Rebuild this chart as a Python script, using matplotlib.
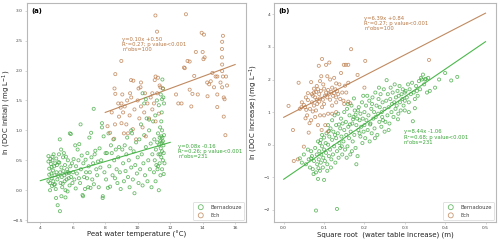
import matplotlib
matplotlib.use("Agg")
import matplotlib.pyplot as plt
import numpy as np

GREEN = "#3aa53a"
BROWN = "#b87745"
GREEN_LINE = "#4cb84c"
BROWN_LINE = "#c08a60"

# (a) peat water temperature (degC) vs ln(DOC initial)
bern_a = [
    (4.5, 0.57), (4.5, 0.48), (4.55, 0.36), (4.55, 0.26), (4.6, 0.12), (4.62, 0.52), (4.65, 0.44),
    (4.68, 0.28), (4.7, 0.2), (4.72, 0.07), (4.75, 0.5), (4.78, 0.33), (4.8, 0.15), (4.82, 0.6),
    (4.85, 0.4), (4.88, 0.25), (4.9, 0.1), (4.92, 0.45), (4.95, 0.02), (4.97, -0.13), (4.98, 0.53),
    (5.0, 0.3), (4.6, 0.0), (4.75, 0.56), (4.85, 0.09), (4.5, 0.15), (4.7, 0.39),
    (5.02, 0.42), (5.05, 0.18), (5.07, -0.25), (5.1, 0.24), (5.12, 0.47), (5.15, 0.6), (5.17, 0.46),
    (5.2, 0.85), (5.21, -0.35), (5.22, 0.3), (5.25, 0.12), (5.28, 0.68), (5.3, 0.38), (5.32, 0.22),
    (5.35, 0.05), (5.38, 0.11), (5.4, 0.55), (5.42, 0.32), (5.45, 0.62), (5.48, 0.25), (5.5, 0.15),
    (5.52, 0.42), (5.55, 0.0), (5.58, 0.56), (5.6, 0.28), (5.62, 0.18), (5.65, 0.35), (5.68, -0.02),
    (5.7, 0.5), (5.72, 0.3), (5.75, 0.2), (5.78, 0.29), (5.8, 0.08), (5.82, 0.95), (5.85, 0.4),
    (5.88, 0.94), (5.9, 0.22), (5.95, 0.45), (5.98, 0.12), (5.3, -0.1), (5.55, -0.12),
    (6.02, 0.3), (6.05, 0.52), (6.1, 0.18), (6.15, 0.75), (6.18, 0.03), (6.2, 0.4), (6.25, 0.28),
    (6.3, 0.68), (6.35, 0.5), (6.38, 0.2), (6.4, 0.77), (6.45, 0.12), (6.48, 1.1), (6.5, 0.35),
    (6.55, 0.58), (6.6, -0.08), (6.63, -0.1), (6.65, 0.45), (6.7, 0.22), (6.75, 0.02), (6.79, 0.51),
    (6.82, 0.3), (6.88, 0.2), (6.9, 0.62), (6.95, 0.05), (6.98, 0.4),
    (7.02, 0.88), (7.05, 0.3), (7.09, 0.04), (7.13, 0.96), (7.15, 0.55), (7.2, 0.18), (7.25, 0.45),
    (7.29, 1.36), (7.3, 0.1), (7.35, 0.6), (7.39, 0.66), (7.45, 0.35), (7.5, 0.25), (7.55, 0.48),
    (7.6, 0.05), (7.65, 0.7), (7.7, 0.38), (7.75, 0.5), (7.8, 1.12), (7.8, 1.05), (7.84, -0.13),
    (7.85, -0.1), (7.9, 0.9), (7.95, 0.3),
    (8.02, 0.62), (8.05, 0.18), (8.1, 0.62), (8.16, 0.04), (8.2, 0.95), (8.25, 0.4), (8.3, 0.06),
    (8.35, 0.75), (8.4, 0.62), (8.45, 0.25), (8.5, 0.85), (8.55, 0.5), (8.6, 0.2), (8.65, 0.68),
    (8.7, 0.35), (8.75, 0.12), (8.8, 0.55), (8.85, 0.72), (8.9, 0.3), (8.95, 0.02),
    (9.05, 0.68), (9.1, 0.45), (9.15, 0.15), (9.2, 0.75), (9.25, 0.32), (9.3, 0.6), (9.35, 0.88),
    (9.4, 0.22), (9.45, 0.5), (9.5, 0.05), (9.55, 0.7), (9.6, 0.38), (9.65, 0.95), (9.7, 0.18),
    (9.75, 0.65), (9.8, -0.05), (9.85, 0.42), (9.9, 0.8), (9.95, 0.28), (9.6, 1.0),
    (10.0, 0.55), (10.05, 0.12), (10.1, 0.85), (10.15, 0.35), (10.2, 1.1), (10.25, 0.6), (10.3, 0.08),
    (10.3, 1.62), (10.35, 0.45), (10.4, 0.92), (10.45, 0.25), (10.5, 0.72), (10.55, 1.2), (10.6, 0.15),
    (10.65, 0.5), (10.7, 1.0), (10.75, 0.35), (10.8, 0.78), (10.85, 0.05), (10.9, 0.6), (10.95, 1.15),
    (10.5, 1.52), (10.4, 1.45), (10.7, 1.18),
    (11.0, 0.3), (11.02, 0.85), (11.05, 0.5), (11.08, 1.25), (11.1, 0.15), (11.12, 0.68), (11.15, 0.42),
    (11.18, 1.5), (11.2, 0.8), (11.22, 0.35), (11.25, 0.95), (11.28, 0.6), (11.3, 1.42), (11.3, 0.0),
    (11.32, 0.75), (11.35, 0.88), (11.35, 0.45), (11.38, 1.05), (11.4, 0.82), (11.4, 0.25), (11.42, 1.6),
    (11.42, 0.7), (11.45, 0.9), (11.45, 0.55), (11.48, 1.3), (11.48, 0.8), (11.5, 1.52), (11.5, 0.65),
    (11.5, 0.35), (11.52, 1.85), (11.52, 0.88), (11.55, 1.7), (11.55, 0.5), (11.58, 1.55), (11.58, 0.75),
    (11.6, 0.62), (11.6, 0.27), (11.62, 1.45), (11.62, 0.92), (11.65, 0.45), (11.5, 1.0), (11.45, 1.15),
    (11.38, 0.6), (11.25, 0.4), (11.55, 0.82),
]

ech_a = [
    (11.09, 2.92), (12.97, 2.94), (11.19, 2.65), (13.94, 2.63), (14.08, 2.6), (15.25, 2.58), (15.2, 2.48),
    (15.19, 2.36), (13.58, 2.31), (14.0, 2.31), (14.12, 2.22), (14.05, 2.19), (15.19, 2.22), (8.99, 2.16),
    (13.07, 2.16), (13.2, 2.15), (15.2, 2.1), (12.85, 2.05), (12.9, 2.04), (13.48, 1.91), (14.6, 1.96),
    (14.8, 1.9), (14.9, 1.9), (15.2, 1.99), (15.25, 1.9), (15.44, 1.9), (8.62, 1.94), (9.59, 1.84),
    (9.73, 1.83), (10.2, 1.8), (11.05, 1.84), (11.1, 1.9), (14.28, 1.8), (14.4, 1.77), (15.1, 1.8),
    (15.2, 1.72), (15.5, 1.75), (11.4, 1.72), (11.55, 1.7), (10.17, 1.72), (8.57, 1.7), (8.62, 1.61),
    (9.53, 1.62), (10.9, 1.62), (13.2, 1.68), (13.37, 1.61), (12.36, 1.6), (12.5, 1.45), (14.7, 1.72),
    (14.9, 1.6), (15.3, 1.55), (15.35, 1.52), (15.3, 1.23), (15.4, 0.92), (14.9, 1.39), (14.3, 1.57),
    (13.3, 1.4), (13.7, 1.6), (12.7, 1.45), (14.5, 1.82),
    (8.14, 1.07), (8.3, 0.96), (8.55, 0.86), (8.85, 1.23), (8.8, 1.45), (9.0, 1.12), (9.1, 1.3),
    (9.2, 1.4), (9.3, 1.1), (9.4, 0.95), (9.5, 1.25), (9.6, 1.55), (9.7, 1.02), (9.8, 1.35),
    (9.9, 0.85), (10.0, 1.5), (10.1, 1.2), (10.2, 1.4), (10.3, 1.05), (10.4, 1.3), (10.5, 0.9),
    (10.6, 1.45), (10.7, 1.2), (10.8, 1.55), (10.9, 1.35), (11.0, 1.45), (11.1, 1.15), (11.2, 1.62),
    (11.3, 1.28), (8.4, 1.3), (8.6, 1.1), (9.05, 1.6), (9.35, 1.5), (10.05, 1.7), (11.25, 1.88),
    (9.15, 0.95), (8.95, 1.38), (10.45, 1.62), (11.35, 1.75), (9.0, 1.45),
]

# (b) sqrt(water table increase) (m) vs ln(DOC increase)
bern_b = [
    (0.04, -0.42), (0.045, -0.55), (0.05, -0.3), (0.055, -0.6), (0.06, -0.15), (0.062, -0.45),
    (0.065, -0.7), (0.068, -0.2), (0.07, -0.35), (0.072, -0.75), (0.075, -0.5), (0.078, -0.1),
    (0.08, -2.02), (0.08, -0.85), (0.082, -0.3), (0.083, -0.6), (0.085, -1.05), (0.085, 0.1),
    (0.087, -0.45), (0.088, -0.2), (0.09, -0.8), (0.09, 0.05), (0.092, -0.55), (0.093, -0.3),
    (0.095, -0.05), (0.095, 0.3), (0.097, -0.7), (0.098, -0.4), (0.1, -1.08), (0.1, -0.15),
    (0.1, 0.22), (0.068, -0.42), (0.074, -0.9), (0.086, -0.72), (0.092, 0.15),
    (0.102, -0.5), (0.104, 0.05), (0.105, -0.25), (0.106, 0.35), (0.108, -0.6), (0.11, 0.0),
    (0.11, 0.6), (0.112, -0.35), (0.113, 0.25), (0.115, -0.15), (0.116, 0.5), (0.118, -0.45),
    (0.12, 0.15), (0.12, 0.75), (0.122, -0.3), (0.123, 0.4), (0.125, -0.05), (0.126, 0.9),
    (0.128, -0.55), (0.13, 0.2), (0.13, 0.6), (0.132, -1.97), (0.132, -0.2), (0.134, 0.35),
    (0.135, 0.95), (0.136, -0.4), (0.138, 0.05), (0.14, 0.5), (0.14, -0.1), (0.142, 0.8),
    (0.143, 0.25), (0.145, -0.3), (0.146, 0.65), (0.148, 0.1), (0.15, 0.45), (0.15, 1.0),
    (0.108, -0.8), (0.117, -0.7), (0.127, 0.3), (0.137, 0.62), (0.144, -0.05), (0.112, 0.42),
    (0.152, -0.15), (0.154, 0.7), (0.155, 0.3), (0.157, 1.1), (0.158, -0.05), (0.16, 0.55),
    (0.162, 0.2), (0.163, 0.9), (0.165, -0.3), (0.166, 0.4), (0.168, 1.2), (0.17, 0.65),
    (0.171, 0.1), (0.173, 0.85), (0.175, 0.3), (0.176, 1.05), (0.178, -0.1), (0.18, 0.6),
    (0.18, -0.6), (0.182, 0.8), (0.183, -0.35), (0.185, 0.45), (0.186, 1.15), (0.188, 0.75),
    (0.19, 0.25), (0.19, 0.95), (0.192, 0.55), (0.194, 1.3), (0.195, 0.05), (0.196, 0.8),
    (0.198, 0.4), (0.2, 1.0), (0.2, 0.6), (0.164, 0.62), (0.172, 0.78), (0.178, 0.92),
    (0.184, 1.05), (0.188, 0.35), (0.156, -0.4), (0.169, -0.2), (0.197, 1.5), (0.174, 1.42),
    (0.159, 1.25),
    (0.202, 0.2), (0.204, 1.2), (0.205, 0.75), (0.207, 1.5), (0.208, 0.45), (0.21, 0.9),
    (0.212, 1.35), (0.213, 0.1), (0.215, 0.65), (0.217, 1.1), (0.218, 0.35), (0.22, 1.45),
    (0.222, 0.8), (0.224, 1.0), (0.225, 0.5), (0.227, 1.6), (0.228, 0.85), (0.23, 1.2),
    (0.232, 0.3), (0.234, 0.95), (0.235, 1.4), (0.237, 0.7), (0.238, 1.15), (0.24, 1.55),
    (0.242, 0.55), (0.243, 1.0), (0.245, 1.3), (0.246, 0.75), (0.248, 1.7), (0.25, 1.1),
    (0.25, 0.4), (0.214, 0.62), (0.226, 0.2), (0.236, 1.75), (0.244, 0.85), (0.219, 1.25),
    (0.252, 0.7), (0.254, 1.35), (0.255, 1.98), (0.257, 0.9), (0.258, 1.55), (0.26, 1.15),
    (0.262, 0.65), (0.264, 1.4), (0.265, 1.75), (0.267, 1.0), (0.268, 1.25), (0.27, 1.6),
    (0.272, 0.85), (0.274, 1.3), (0.275, 1.85), (0.277, 1.1), (0.278, 1.45), (0.28, 1.2),
    (0.282, 1.65), (0.284, 0.95), (0.285, 1.5), (0.287, 1.8), (0.288, 1.3), (0.29, 1.05),
    (0.292, 1.55), (0.294, 1.4), (0.295, 1.7), (0.297, 1.2), (0.3, 1.6), (0.3, 1.35),
    (0.26, 0.45), (0.283, 0.78),
    (0.302, 1.65), (0.305, 1.45), (0.308, 1.85), (0.31, 1.3), (0.312, 1.7), (0.315, 1.55),
    (0.318, 1.9), (0.32, 0.72), (0.322, 1.6), (0.325, 1.4), (0.328, 1.8), (0.33, 1.65),
    (0.332, 1.5), (0.335, 1.95), (0.338, 1.7), (0.34, 2.05), (0.342, 2.0), (0.345, 2.15),
    (0.348, 1.85), (0.35, 2.0), (0.352, 2.02), (0.355, 1.6), (0.358, 2.05), (0.362, 1.65),
    (0.375, 1.75), (0.385, 2.0), (0.4, 2.2), (0.415, 1.97), (0.43, 2.08), (0.3, 1.05),
    (0.31, 1.0), (0.325, 1.12),
]

ech_b = [
    (0.012, 1.19), (0.023, 0.45), (0.025, -0.5), (0.035, -0.45), (0.05, -0.06), (0.044, 1.15),
    (0.04, 1.1), (0.053, 1.15), (0.056, 1.07), (0.05, 1.22), (0.06, 1.37), (0.054, 0.81),
    (0.062, 0.37), (0.064, 0.66), (0.037, 1.9), (0.068, 1.92), (0.07, 1.55), (0.072, 1.5),
    (0.075, 1.6), (0.078, 1.45), (0.08, 1.62), (0.082, 1.38), (0.085, 1.7), (0.088, 1.55),
    (0.09, 1.42), (0.092, 1.65), (0.095, 2.63), (0.087, 2.42), (0.105, 2.45), (0.113, 2.52),
    (0.09, 1.95), (0.093, 2.1), (0.1, 1.72), (0.102, 1.5), (0.105, 1.6), (0.108, 1.45),
    (0.11, 1.68), (0.112, 1.55), (0.115, 1.38), (0.118, 1.62), (0.12, 1.75), (0.122, 1.5),
    (0.125, 1.58), (0.128, 1.7), (0.13, 1.45), (0.132, 1.65), (0.135, 1.55), (0.142, 2.2),
    (0.149, 2.45), (0.154, 2.45), (0.16, 2.45), (0.167, 2.93), (0.202, 2.57), (0.36, 2.6),
    (0.152, 1.81), (0.16, 1.32), (0.165, 1.27), (0.183, 2.14), (0.09, 0.9), (0.1, 0.9),
    (0.11, 0.95), (0.075, 1.2), (0.08, 1.05), (0.085, 0.6), (0.078, 0.85), (0.095, 1.15),
    (0.1, 1.25), (0.12, 1.2), (0.13, 1.3), (0.14, 1.4), (0.145, 1.6), (0.138, 1.85),
    (0.125, 2.05), (0.115, 2.0), (0.108, 2.1), (0.098, 1.85), (0.07, 1.3), (0.065, 1.1),
    (0.058, 0.9), (0.068, 0.75), (0.072, 1.02), (0.083, 1.25), (0.088, 1.32), (0.097, 1.38),
    (0.12, 0.95), (0.13, 1.0), (0.15, 1.25), (0.155, 1.6), (0.148, 1.35), (0.103, 0.6),
    (0.11, 0.4), (0.094, 0.45), (0.082, 1.8), (0.075, 1.72), (0.06, 1.58), (0.055, 1.45),
    (0.045, 1.3), (0.13, 1.88), (0.16, 1.9), (0.2, 1.75),
]

# regression fits (slope, intercept, x range of the drawn line)
fit_bern_a = (0.08, -0.16, (4, 12))
fit_ech_a = (0.10, 0.50, (8, 16))
fit_bern_b = (8.44, -1.06, (0.0, 0.5))
fit_ech_b = (6.39, 0.84, (0.0, 0.5))

stats_bern_a = "y=0.08x -0.16\nR²=0.26; p value<0.001\nn°obs=231"
stats_ech_a = "y=0.10x +0.50\nR²=0.27; p value<0.001\nn°obs=100"
stats_bern_b = "y=8.44x -1.06\nR²=0.68; p value<0.001\nn°obs=231"
stats_ech_b = "y=6.39x +0.84\nR²=0.27; p value<0.001\nn°obs=100"


def draw_panel(ax, bern, ech, fit_b, fit_e):
    b = np.array(bern)
    e = np.array(ech)
    ax.scatter(b[:, 0], b[:, 1], s=5, facecolors="none", edgecolors=GREEN,
               linewidths=0.6, alpha=0.75, label="Bernadouze", zorder=3)
    ax.scatter(e[:, 0], e[:, 1], s=5, facecolors="none", edgecolors=BROWN,
               linewidths=0.6, alpha=0.75, label="Ech", zorder=3)
    for (k, c, (x0, x1)), col in ((fit_b, GREEN_LINE), (fit_e, BROWN_LINE)):
        xs = np.array([x0, x1])
        ax.plot(xs, k * xs + c, color=col, lw=0.8, zorder=2)

    for sp in ax.spines.values():
        sp.set_color("#b8b8b8")
        sp.set_linewidth(0.8)
    ax.tick_params(labelsize=3.2, length=1.5, width=0.4, pad=1.2,
                   colors="#b8b8b8", labelcolor="#444444")
    ax.yaxis.set_label_coords(-0.062, 0.5)
    leg = ax.legend(loc="lower right", fontsize=3.8, frameon=True, borderaxespad=0.3,
                    handletextpad=0.8, markerscale=1.6, borderpad=0.5, labelspacing=0.6)
    leg.get_frame().set_edgecolor("#cccccc")
    leg.get_frame().set_linewidth(0.5)
    for t in leg.get_texts():
        t.set_color("#444444")


fig = plt.figure(figsize=(5.0, 2.41), dpi=100)
ax1 = fig.add_axes([0.053, 0.079, 0.439, 0.909])
ax2 = fig.add_axes([0.548, 0.079, 0.444, 0.909])

draw_panel(ax1, bern_a, ech_a, fit_bern_a, fit_ech_a)
ax1.set_xlim(3.15, 16.67)
ax1.set_ylim(-0.53, 3.13)
ax1.set_xticks([4, 6, 8, 10, 12, 14, 16])
ax1.set_yticks([-0.5, 0.0, 0.5, 1.0, 1.5, 2.0, 2.5, 3.0])
ax1.set_xlabel("Peat water temperature (°C)", fontsize=5, labelpad=1, color="#222222")
ax1.set_ylabel("ln (DOC initial) (mg L$^{-1}$)", fontsize=5, color="#222222")
ax1.text(9.04, 2.56, stats_ech_a, color=BROWN, fontsize=3.8, va="top", linespacing=1.05)
ax1.text(12.5, 0.78, stats_bern_a, color=GREEN, fontsize=3.8, va="top", linespacing=1.05)
ax1.text(0.02, 0.975, "(a)", transform=ax1.transAxes, fontsize=5, fontweight="bold", va="top")

draw_panel(ax2, bern_b, ech_b, fit_bern_b, fit_ech_b)
ax2.set_xlim(-0.024, 0.526)
ax2.set_ylim(-2.37, 4.35)
ax2.set_xticks([0.0, 0.1, 0.2, 0.3, 0.4, 0.5])
ax2.set_yticks([-2, -1, 0, 1, 2, 3, 4])
ax2.set_xlabel("Square root  (water table increase) (m)", fontsize=5, labelpad=1, color="#222222")
ax2.set_ylabel("ln (DOC increase) (mg L$^{-1}$)", fontsize=5, color="#222222")
ax2.text(0.2, 3.96, stats_ech_b, color=BROWN, fontsize=3.8, va="top", linespacing=1.05)
ax2.text(0.298, 0.47, stats_bern_b, color=GREEN, fontsize=3.8, va="top", linespacing=1.05)
ax2.text(0.02, 0.975, "(b)", transform=ax2.transAxes, fontsize=5, fontweight="bold", va="top")

fig.savefig("out.png", dpi=100)
